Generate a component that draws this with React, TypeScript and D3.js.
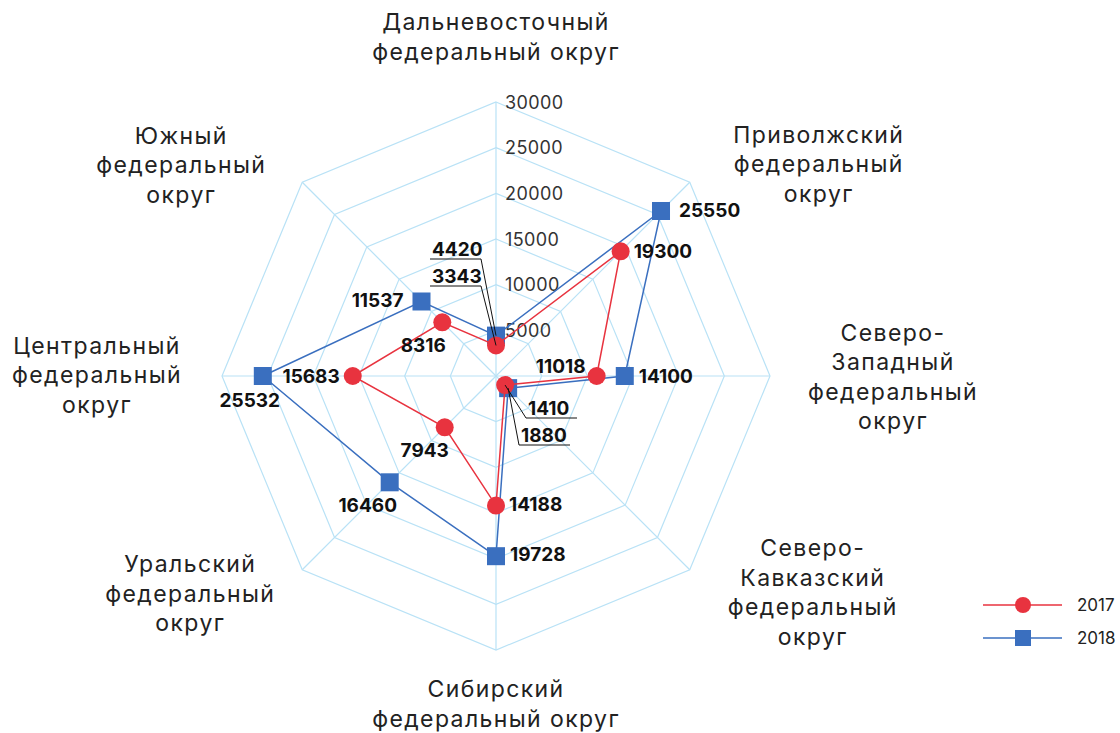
import React from "react";
import * as d3 from "d3";

// axes go clockwise from the top
const districts = [
  ["Дальневосточный", "федеральный округ"],
  ["Приволжский", "федеральный", "округ"],
  ["Северо-", "Западный", "федеральный", "округ"],
  ["Северо-", "Кавказский", "федеральный", "округ"],
  ["Сибирский", "федеральный округ"],
  ["Уральский", "федеральный", "округ"],
  ["Центральный", "федеральный", "округ"],
  ["Южный", "федеральный", "округ"],
];
const values2017 = [3343, 19300, 11018, 1410, 14188, 7943, 15683, 8316];
const values2018 = [4420, 25550, 14100, 1880, 19728, 16460, 25532, 11537];
const ticks = [5000, 10000, 15000, 20000, 25000, 30000];
const seriesNames = ["2017", "2018"];

const W = 1120;
const H = 733;
const cx = 496;
const cy = 376;
const R = 274;
const RED = "#e8333f";
const BLUE = "#3a6fbf";
const GRID = "#b9e2f6";
const FONT = "Inter, 'Noto Sans', sans-serif";

// where each category block sits, relative to its outer vertex
const catOffset = [
  [0, -65], [129, -18], [123, 1], [123, 23],
  [0, 54], [-112, 24], [-125, -1], [-121, -17],
];

// value label placement: [dx, dy, anchor] or callout {ty, tx}
type Lab = { dx: number; dy: number; anchor: string } | { callout: true; tx: number; ty: number };
const labels2017: Lab[] = [
  { callout: true, tx: 432, ty: 276 },
  { dx: 13, dy: 0, anchor: "start" },
  { dx: -11, dy: -10, anchor: "end" },
  { callout: true, tx: 528, ty: 408 },
  { dx: 13, dy: -1, anchor: "start" },
  { dx: -20, dy: 23, anchor: "middle" },
  { dx: -13, dy: 0, anchor: "end" },
  { dx: -19, dy: 23, anchor: "middle" },
];
const labels2018: Lab[] = [
  { callout: true, tx: 432, ty: 249 },
  { dx: 18, dy: 0, anchor: "start" },
  { dx: 14, dy: 0, anchor: "start" },
  { callout: true, tx: 521, ty: 435 },
  { dx: 14, dy: -2, anchor: "start" },
  { dx: -22, dy: 23, anchor: "middle" },
  { dx: -13, dy: 24, anchor: "middle" },
  { dx: -18, dy: -1, anchor: "end" },
];

const r = d3.scaleLinear().domain([0, 30000]).range([0, R]);
const angle = (i: number) => (i * 2 * Math.PI) / districts.length;
const polar = (radius: number, i: number): [number, number] => [
  cx + radius * Math.sin(angle(i)),
  cy - radius * Math.cos(angle(i)),
];

function Series({ values, color, shape }: { values: number[]; color: string; shape: string }) {
  const pts = values.map((v, i) => polar(r(v), i));
  const line = d3.line().curve(d3.curveLinearClosed)(pts) as string;
  return (
    <g>
      <path d={line} fill="none" stroke={color} strokeWidth={1.5} />
      {pts.map(([x, y], i) =>
        shape === "circle" ? (
          <circle key={i} cx={x} cy={y} r={9} fill={color} />
        ) : (
          <rect key={i} x={x - 9} y={y - 9} width={18} height={18} fill={color} />
        )
      )}
    </g>
  );
}

function ValueLabels({ values, labs }: { values: number[]; labs: Lab[] }) {
  const pts = values.map((v, i) => polar(r(v), i));
  return (
    <g fontFamily={FONT} fontWeight={700} fontSize={19} fill="#111">
      {pts.map(([x, y], i) => {
        const l = labs[i] as any;
        if (l.callout) {
          const uy = l.ty + 10;
          const left = l.tx - 2;
          const right = l.tx + 49;
          const fromRight = l.tx < cx;
          return (
            <g key={i}>
              <polyline
                points={`${fromRight ? left : right},${uy} ${fromRight ? right : left},${uy} ${x},${y}`}
                fill="none"
                stroke="#111"
                strokeWidth={1}
              />
              <text x={l.tx} y={l.ty} dominantBaseline="central">
                {values[i]}
              </text>
            </g>
          );
        }
        return (
          <text key={i} x={x + l.dx} y={y + l.dy} textAnchor={l.anchor} dominantBaseline="central">
            {values[i]}
          </text>
        );
      })}
    </g>
  );
}

export default function App() {
  const n = districts.length;
  const ring = (v: number) =>
    d3.range(n).map((i) => polar(r(v), i).join(",")).join(" ");

  return (
    <svg width={W} height={H} style={{ position: "absolute", left: 0, top: 0 }}>
      <rect width={W} height={H} fill="#fff" />
      {/* grid */}
      <g stroke={GRID} strokeWidth={1.2} fill="none">
        {ticks.map((t) => (
          <polygon key={t} points={ring(t)} />
        ))}
        {d3.range(n).map((i) => {
          const [x, y] = polar(R, i);
          return <line key={i} x1={cx} y1={cy} x2={x} y2={y} />;
        })}
      </g>
      {/* tick labels */}
      <g fontFamily={FONT} fontSize={18} fill="#333" letterSpacing={0.4}>
        {ticks.map((t) => (
          <text key={t} x={cx + 9} y={cy - r(t)} dominantBaseline="central">
            {t}
          </text>
        ))}
      </g>
      {/* categories */}
      <g fontFamily={FONT} fontSize={23} fill="#222" textAnchor="middle" letterSpacing={1.4}>
        {districts.map((lines, i) => {
          const [vx, vy] = polar(R, i);
          const bx = vx + catOffset[i][0];
          const by = vy + catOffset[i][1];
          const lh = 29.5;
          const y0 = by - ((lines.length - 1) * lh) / 2;
          return (
            <text key={i} x={bx}>
              {lines.map((s, k) => (
                <tspan key={k} x={bx} y={y0 + k * lh} dominantBaseline="central">
                  {s}
                </tspan>
              ))}
            </text>
          );
        })}
      </g>
      <Series values={values2018} color={BLUE} shape="rect" />
      <Series values={values2017} color={RED} shape="circle" />
      <ValueLabels values={values2018} labs={labels2018} />
      <ValueLabels values={values2017} labs={labels2017} />
      {/* legend */}
      <g fontFamily={FONT} fontSize={17} fill="#222">
        {seriesNames.map((name, k) => {
          const y = 605 + k * 33;
          const color = k === 0 ? RED : BLUE;
          return (
            <g key={name}>
              <line x1={983} x2={1062} y1={y} y2={y} stroke={color} strokeWidth={1.5} />
              {k === 0 ? (
                <circle cx={1023} cy={y} r={8} fill={color} />
              ) : (
                <rect x={1015} y={y - 8} width={16} height={16} fill={color} />
              )}
              <text x={1077} y={y} dominantBaseline="central">
                {name}
              </text>
            </g>
          );
        })}
      </g>
    </svg>
  );
}
